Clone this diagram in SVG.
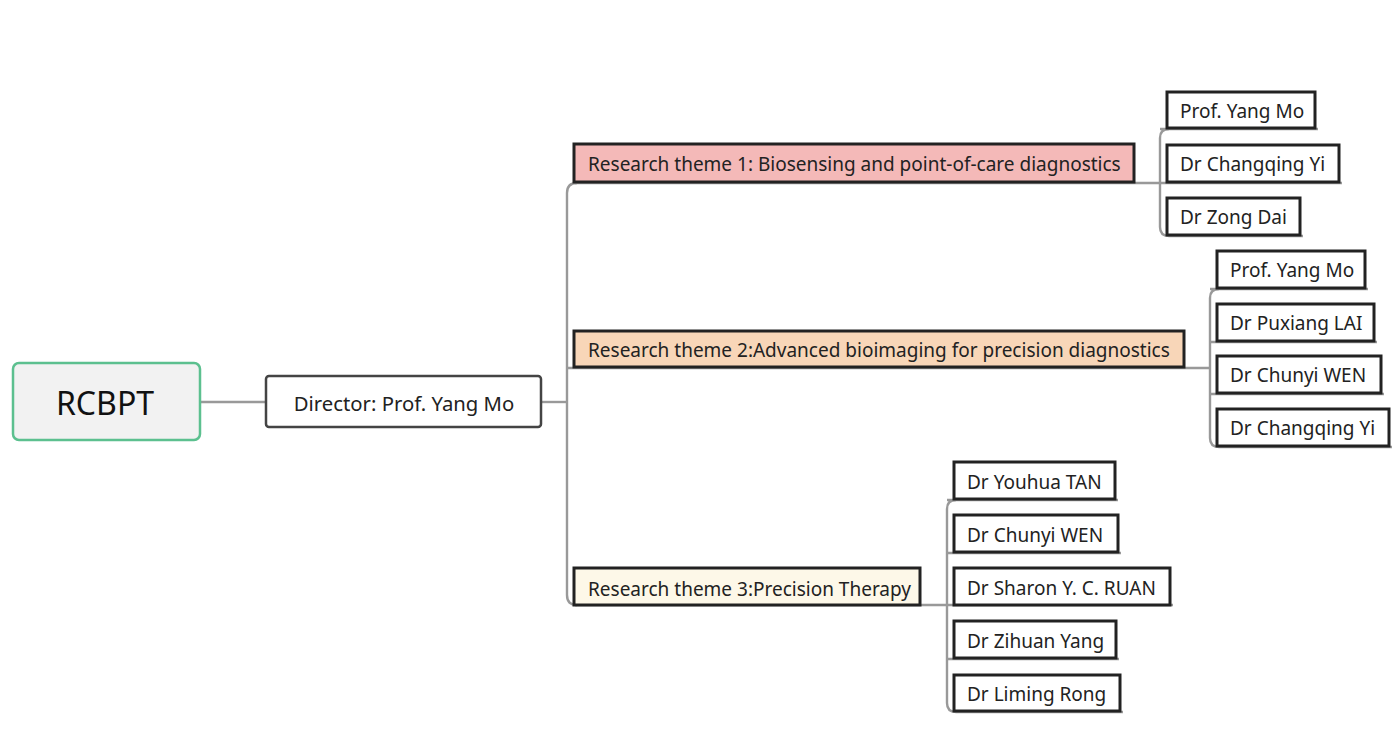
<svg xmlns="http://www.w3.org/2000/svg" width="1400" height="755" viewBox="0 0 1400 755">
<style>
.c{fill:none;stroke:#999;stroke-width:2.4}
.b{stroke:#222;stroke-width:3}
.t{font-family:"Noto Sans","Open Sans",sans-serif;font-size:19px;fill:#222}
</style>
<rect width="1400" height="755" fill="#fff"/>
<g id="connectors">
<path class="c" d="M200,402 H266"/>
<path class="c" d="M541,402 H567"/>
<path class="c" d="M577,183 Q567,183 567,193 V595 Q567,605 577,605"/>
<path class="c" d="M567,368 H1210"/>
<path class="c" d="M575,183 H1342"/>
<path class="c" d="M575,605 H1173"/>
<path class="c" d="M1169,129 Q1160,129 1160,138 V227 Q1160,236 1169,236 H1303"/>
<path class="c" d="M1160,129 H1318"/>
<path class="c" d="M1219,289 Q1210,289 1210,298 V438 Q1210,447 1219,447 H1392"/>
<path class="c" d="M1210,289 H1368"/>
<path class="c" d="M1210,342 H1377"/>
<path class="c" d="M1210,394 H1384"/>
<path class="c" d="M956,500 Q947,500 947,509 V703 Q947,712 956,712 H1123"/>
<path class="c" d="M947,500 H1118"/>
<path class="c" d="M947,553 H1121"/>
<path class="c" d="M947,659 H1119"/>
</g>
<g id="root">
<rect x="13" y="363" width="187" height="77" rx="6" fill="#f2f2f2" stroke="#5cc08f" stroke-width="2.5"/>
<text x="105" y="415" text-anchor="middle" font-family="Noto Sans, Open Sans, sans-serif" font-size="32" fill="#111">RCBPT</text>
</g>
<g id="director">
<rect x="266" y="376" width="275" height="51" rx="3" fill="#fff" stroke="#444" stroke-width="2.5"/>
<text x="404" y="411" text-anchor="middle" font-family="Noto Sans, Open Sans, sans-serif" font-size="20.3" fill="#222">Director: Prof. Yang Mo</text>
</g>
<g id="theme1">
<rect class="b" x="574" y="144" width="560" height="38" fill="#f4b9b8"/>
<text class="t" x="588" y="171">Research theme 1: Biosensing and point-of-care diagnostics</text>
</g>
<g id="theme2">
<rect class="b" x="574" y="331" width="610" height="36" fill="#f8d6b8"/>
<text class="t" x="588" y="357">Research theme 2:Advanced bioimaging for precision diagnostics</text>
</g>
<g id="theme3">
<rect class="b" x="574" y="568" width="346" height="37" fill="#fdf8e8"/>
<text class="t" x="588" y="596">Research theme 3:Precision Therapy</text>
</g>
<g id="t1-leaf1"><rect class="b" x="1167" y="92" width="148" height="36" fill="#fff"/><text class="t" x="1180" y="118">Prof. Yang Mo</text></g>
<g id="t1-leaf2"><rect class="b" x="1167" y="145" width="172" height="37" fill="#fff"/><text class="t" x="1180" y="171">Dr Changqing Yi</text></g>
<g id="t1-leaf3"><rect class="b" x="1167" y="198" width="133" height="37" fill="#fff"/><text class="t" x="1180" y="224">Dr Zong Dai</text></g>
<g id="t2-leaf1"><rect class="b" x="1217" y="251" width="148" height="37" fill="#fff"/><text class="t" x="1230" y="277">Prof. Yang Mo</text></g>
<g id="t2-leaf2"><rect class="b" x="1217" y="304" width="157" height="37" fill="#fff"/><text class="t" x="1230" y="330">Dr Puxiang LAI</text></g>
<g id="t2-leaf3"><rect class="b" x="1217" y="356" width="164" height="37" fill="#fff"/><text class="t" x="1230" y="382">Dr Chunyi WEN</text></g>
<g id="t2-leaf4"><rect class="b" x="1217" y="409" width="172" height="37" fill="#fff"/><text class="t" x="1230" y="435">Dr Changqing Yi</text></g>
<g id="t3-leaf1"><rect class="b" x="954" y="462" width="161" height="37" fill="#fff"/><text class="t" x="967" y="489">Dr Youhua TAN</text></g>
<g id="t3-leaf2"><rect class="b" x="954" y="515" width="164" height="37" fill="#fff"/><text class="t" x="967" y="542">Dr Chunyi WEN</text></g>
<g id="t3-leaf3"><rect class="b" x="954" y="568" width="216" height="37" fill="#fff"/><text class="t" x="967" y="595">Dr Sharon Y. C. RUAN</text></g>
<g id="t3-leaf4"><rect class="b" x="954" y="621" width="162" height="37" fill="#fff"/><text class="t" x="967" y="648">Dr Zihuan Yang</text></g>
<g id="t3-leaf5"><rect class="b" x="954" y="675" width="166" height="36" fill="#fff"/><text class="t" x="967" y="701">Dr Liming Rong</text></g>
</svg>
